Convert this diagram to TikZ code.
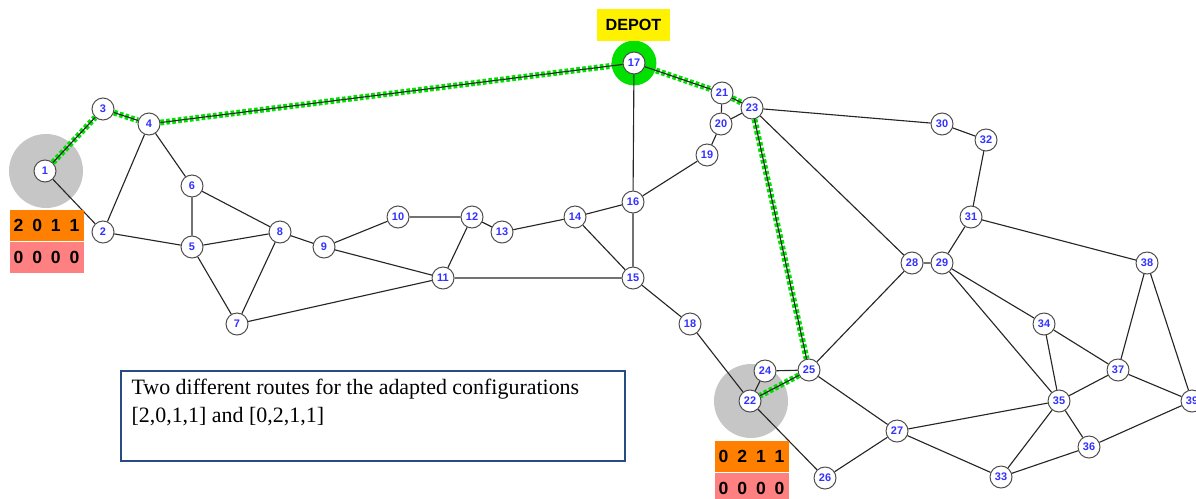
\documentclass[tikz,border=0pt]{standalone}
\usepackage{fontspec}
\setmainfont{Liberation Serif}
\setsansfont{Liberation Sans}
\definecolor{labelblue}{RGB}{50,50,255}
\definecolor{routegreen}{RGB}{0,225,0}
\definecolor{cfgorange}{RGB}{255,128,0}
\definecolor{cfgpink}{RGB}{255,128,128}
\definecolor{noteblue}{RGB}{40,75,130}
\newcommand{\cfg}[4]{#1\hspace{6.3pt}#2\hspace{6.3pt}#3\hspace{6.3pt}#4}

\begin{document}
\begin{tikzpicture}[
        x = 0.025cm,
        y = -0.025cm,
        line width = 0.8pt,
        stop/.style = {circle, draw = black!70, fill = white, line width = 0.7pt,
            minimum size = 0.55cm, inner sep = 0pt, text = labelblue,
            font = \sffamily\bfseries\fontsize{7.8}{8}\selectfont},
        halo/.style = {circle, fill = gray!45, minimum size = 1.85cm, inner sep = 0pt},
        depothalo/.style = {circle, fill = routegreen, minimum size = 1.12cm, inner sep = 0pt},
        road/.style = {draw = black!85, line width = 0.8pt},
        route/.style = {draw = routegreen, line width = 4.2pt, dash pattern = on 2.6pt off 1.6pt},
        cfgrow/.style = {minimum width = 1.85cm, minimum height = 0.775cm, inner sep = 0pt,
            font = \sffamily\bfseries\fontsize{12.5}{14}\selectfont},
        depotbox/.style = {fill = yellow, minimum width = 1.825cm, minimum height = 0.775cm,
            inner sep = 0pt, font = \sffamily\bfseries\fontsize{11.5}{13}\selectfont}
    ]
        \useasboundingbox (0,0) rectangle (1196,499);

        % customer and depot areas
        \node[halo] (halo1) at (46,171) {};
        \node[halo] (halo22) at (751,401) {};
        \node[depothalo] (halo17) at (634,63) {};

        % nodes of the network
        \node[stop] (n1) at (45,171) {1};
        \node[stop] (n2) at (103,232) {2};
        \node[stop] (n3) at (103,109) {3};
        \node[stop] (n4) at (149,124) {4};
        \node[stop] (n5) at (192,247) {5};
        \node[stop] (n6) at (192,186) {6};
        \node[stop] (n7) at (237,324) {7};
        \node[stop] (n8) at (280,232) {8};
        \node[stop] (n9) at (324,247) {9};
        \node[stop] (n10) at (398,217) {10};
        \node[stop] (n11) at (443,278) {11};
        \node[stop] (n12) at (472,217) {12};
        \node[stop] (n13) at (502,232) {13};
        \node[stop] (n14) at (575,217) {14};
        \node[stop] (n15) at (633,278) {15};
        \node[stop] (n16) at (633,202) {16};
        \node[stop] (n17) at (634,63) {17};
        \node[stop] (n18) at (690,324) {18};
        \node[stop] (n19) at (707,155) {19};
        \node[stop] (n20) at (721,124) {20};
        \node[stop] (n21) at (722,93) {21};
        \node[stop] (n22) at (750,401) {22};
        \node[stop] (n23) at (752,108) {23};
        \node[stop] (n24) at (765,371) {24};
        \node[stop] (n25) at (809,370) {25};
        \node[stop] (n26) at (825,478) {26};
        \node[stop] (n27) at (897,431) {27};
        \node[stop] (n28) at (912,263) {28};
        \node[stop] (n29) at (942,263) {29};
        \node[stop] (n30) at (942,124) {30};
        \node[stop] (n31) at (971,217) {31};
        \node[stop] (n32) at (986,140) {32};
        \node[stop] (n33) at (1001,477) {33};
        \node[stop] (n34) at (1044,324) {34};
        \node[stop] (n35) at (1059,401) {35};
        \node[stop] (n36) at (1089,447) {36};
        \node[stop] (n37) at (1118,370) {37};
        \node[stop] (n38) at (1147,263) {38};
        \node[stop] (n39) at (1192,401) {39};

        % roads
        \draw[road] (n1) -- (n2) (n4) -- (n2) (n4) -- (n6) (n2) -- (n5) (n6) -- (n5)
            (n6) -- (n8) (n5) -- (n8) (n5) -- (n7) (n7) -- (n8) (n7) -- (n11)
            (n8) -- (n9) (n9) -- (n10) (n9) -- (n11) (n10) -- (n12) (n12) -- (n11)
            (n12) -- (n13) (n13) -- (n14) (n14) -- (n16) (n14) -- (n15) (n11) -- (n15)
            (n15) -- (n16) (n16) -- (n17) (n16) -- (n19) (n15) -- (n18) (n18) -- (n22)
            (n19) -- (n20) (n20) -- (n21) (n20) -- (n23) (n22) -- (n24) (n24) -- (n25)
            (n22) -- (n26) (n23) -- (n30) (n23) -- (n28) (n30) -- (n32) (n32) -- (n31)
            (n31) -- (n29) (n31) -- (n38) (n28) -- (n29) (n28) -- (n25) (n25) -- (n27)
            (n26) -- (n27) (n29) -- (n34) (n29) -- (n35) (n34) -- (n35) (n34) -- (n37)
            (n35) -- (n37) (n35) -- (n36) (n35) -- (n33) (n35) -- (n27) (n27) -- (n33)
            (n33) -- (n36) (n36) -- (n39) (n37) -- (n39) (n38) -- (n37) (n38) -- (n39);

        % the two routes from the depot
        \draw[route] (n1) -- (n3) -- (n4) -- (n17) -- (n21) -- (n23) -- (n25) -- (n22);
        \draw[road] (n1) -- (n3) -- (n4) -- (n17) -- (n21) -- (n23) -- (n25) -- (n22);

        % configurations
        \node[cfgrow, fill = cfgorange, anchor = north west] (cfg1) at (9,209) {\cfg{2}{0}{1}{1}};
        \node[cfgrow, fill = cfgpink, anchor = north] (adj1) at (cfg1.south) {\cfg{0}{0}{0}{0}};
        \node[cfgrow, fill = cfgorange, anchor = north west] (cfg22) at (714,440) {\cfg{0}{2}{1}{1}};
        \node[cfgrow, fill = cfgpink, anchor = north] (adj22) at (cfg22.south) {\cfg{0}{0}{0}{0}};

        \node[depotbox] (depot) at (633.5,25) {DEPOT};

        % note
        \node[draw = noteblue, line width = 1.5pt, minimum width = 12.6cm, minimum height = 2.25cm,
            anchor = north west, inner sep = 0pt] (note) at (120,370) {};
        \node[anchor = north west, inner sep = 0pt, align = left,
            font = \fontsize{15.6}{20.5}\selectfont] (notetext) at (131,378)
            {Two different routes for the adapted configurations\\ {[2,0,1,1]} and {[0,2,1,1]}};
    \end{tikzpicture}
\end{document}
